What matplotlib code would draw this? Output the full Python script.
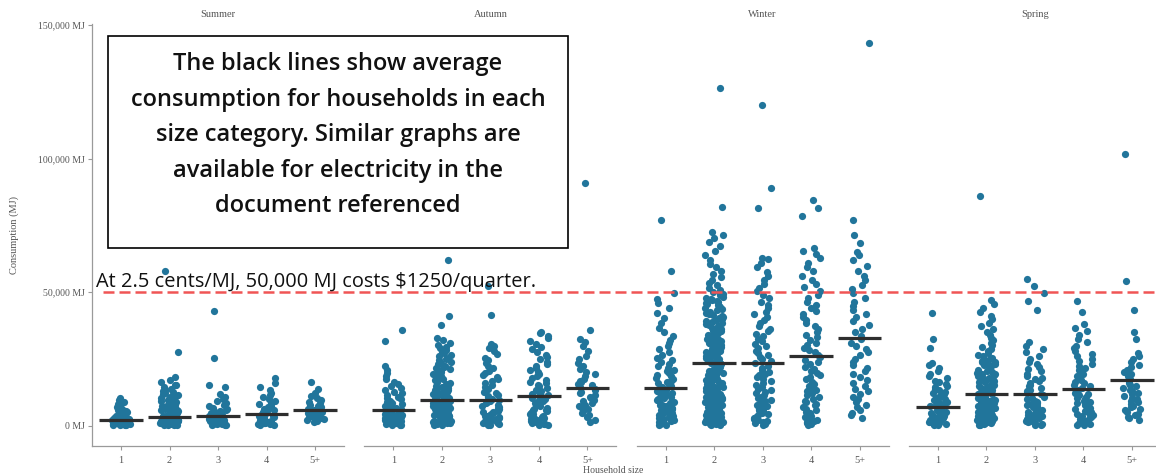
import numpy as np
import pandas as pd
import matplotlib
matplotlib.use("Agg")
import matplotlib.pyplot as plt
import matplotlib.transforms as mtransforms
from matplotlib.lines import Line2D
from matplotlib.patches import Rectangle
import seaborn as sns

seasons = ["Summer", "Autumn", "Winter", "Spring"]
sizes = ["1", "2", "3", "4", "5+"]

# household consumption, thousands of MJ
summer_1 = [0.2, 0.3, 0.4, 0.5, 0.6, 0.7, 0.8, 0.9, 1.0, 1.1, 1.2, 1.3, 1.4, 1.5, 1.6, 1.7, 1.8, 1.9,
            2.0, 2.1, 2.2, 2.3, 2.4, 2.5, 2.6, 2.8, 3.0, 3.2, 3.4, 3.6, 3.8, 4.0, 4.3, 4.6, 4.9, 5.2,
            5.6, 6.0, 6.5, 7.0, 7.6, 8.2, 8.9, 9.6, 10.3]
summer_2 = [0.2, 0.3, 0.4, 0.5, 0.6, 0.7, 0.8, 0.9, 1.0, 1.1, 1.2, 1.3, 1.4, 1.5, 1.6, 1.7, 1.8, 1.9,
            2.0, 2.1, 2.2, 2.3, 2.4, 2.5, 2.6, 2.7, 2.8, 2.9, 3.0, 3.1, 3.2, 3.3, 3.4, 3.5, 3.6, 3.7,
            3.8, 3.9, 4.0, 4.2, 4.4, 4.6, 4.8, 5.0, 5.2, 5.4, 5.6, 5.8, 6.0, 6.2, 6.4, 6.6, 6.8, 7.0,
            7.2, 7.4, 7.6, 7.8, 8.0, 8.3, 8.6, 8.9, 9.2, 9.5, 9.8, 10.1, 10.4, 10.7, 11.0, 11.3, 11.6,
            11.9, 12.2, 12.6, 13.0, 13.5, 14.0, 14.6, 15.2, 15.5, 16.3, 17.2, 18.3, 27.5, 58.0]
summer_3 = [0.2, 0.3, 0.5, 0.6, 0.7, 0.9, 1.0, 1.1, 1.3, 1.4, 1.5, 1.7, 1.9, 2.1, 2.3, 2.5, 2.7, 2.9,
            3.1, 3.3, 3.6, 3.9, 4.2, 4.5, 4.8, 5.1, 5.5, 5.9, 6.3, 6.8, 7.3, 7.9, 8.5, 9.2, 10.0, 10.8,
            12.0, 14.6, 15.2, 25.6, 43.0]
summer_4 = [0.3, 0.4, 0.6, 0.7, 0.8, 1.0, 1.1, 1.2, 1.4, 1.6, 1.8, 2.0, 2.2, 2.4, 2.6, 2.8, 3.0, 3.3,
            3.6, 3.9, 4.2, 4.5, 4.8, 5.1, 5.5, 5.9, 6.3, 6.7, 7.1, 7.6, 8.1, 8.7, 9.3, 10.0, 10.8,
            11.6, 12.5, 13.5, 14.6, 16.0, 18.0]
summer_5 = [1.6, 2.0, 2.2, 2.5, 2.8, 3.0, 3.3, 3.5, 3.7, 4.1, 4.5, 4.9, 5.3, 5.6, 6.0, 6.3, 6.7, 7.1,
            7.5, 8.0, 8.5, 9.0, 9.6, 10.3, 11.2, 12.4, 13.8, 16.5]

autumn_1 = [0.2, 0.4, 0.5, 0.7, 0.8, 1.0, 1.2, 1.4, 1.6, 1.8, 2.0, 2.2, 2.4, 2.6, 2.8, 3.0, 3.2, 3.4,
            3.6, 3.8, 4.0, 4.2, 4.5, 4.8, 5.1, 5.4, 5.7, 6.0, 6.3, 6.6, 7.0, 7.4, 7.8, 8.2, 8.6, 9.0,
            9.5, 10.0, 10.5, 11.0, 11.6, 12.2, 12.8, 13.4, 14.1, 14.8, 15.6, 16.4, 17.4, 18.6, 19.8,
            21.0, 22.3, 31.6, 36.0]
autumn_2 = [0.2, 0.4, 0.6, 0.8, 1.0, 1.2, 1.4, 1.6, 1.8, 2.0, 2.2, 2.4, 2.6, 2.8, 3.0, 3.2, 3.4, 3.6,
            3.8, 4.0, 4.2, 4.4, 4.6, 4.8, 5.0, 5.2, 5.4, 5.6, 5.8, 6.0, 6.2, 6.4, 6.6, 6.8, 7.0, 7.2,
            7.4, 7.6, 7.8, 8.0, 8.2, 8.4, 8.6, 8.8, 9.0, 9.2, 9.4, 9.6, 9.8, 10.0, 10.3, 10.6, 10.9,
            11.2, 11.5, 11.8, 12.1, 12.4, 12.7, 13.0, 13.3, 13.6, 13.9, 14.2, 14.5, 14.8, 15.1, 15.4,
            15.7, 16.0, 16.4, 16.8, 17.2, 17.6, 18.0, 18.4, 18.8, 19.2, 19.6, 20.0, 20.4, 20.8, 21.2,
            21.6, 22.0, 22.5, 23.0, 23.5, 24.0, 24.5, 25.0, 25.5, 26.0, 26.6, 27.2, 27.8, 28.4, 29.0,
            29.6, 30.2, 31.0, 32.2, 33.0, 37.8, 41.0, 62.0]
autumn_3 = [0.2, 0.4, 0.6, 0.8, 1.0, 1.2, 1.5, 1.8, 2.1, 2.4, 2.7, 3.0, 3.3, 3.6, 3.9, 4.2, 4.5, 4.8,
            5.1, 5.4, 5.7, 6.0, 6.4, 6.8, 7.2, 7.6, 8.0, 8.4, 8.8, 9.2, 9.7, 10.2, 10.7, 11.2, 11.7,
            12.2, 12.8, 13.4, 14.0, 14.6, 15.3, 16.0, 16.7, 17.4, 18.2, 19.0, 19.8, 20.7, 21.6, 22.5,
            23.5, 24.5, 25.6, 26.8, 28.0, 29.3, 30.0, 30.8, 41.6, 52.4]
autumn_4 = [0.2, 0.4, 0.6, 0.8, 1.0, 1.3, 1.6, 1.9, 2.2, 2.5, 2.8, 3.1, 3.4, 3.7, 4.0, 4.3, 4.6, 4.9,
            5.2, 5.5, 5.8, 6.1, 6.5, 6.9, 7.3, 7.7, 8.1, 8.5, 8.9, 9.3, 9.7, 10.1, 10.6, 11.1, 11.6,
            12.1, 12.6, 13.1, 13.6, 14.2, 14.8, 15.4, 16.0, 16.6, 17.2, 17.9, 18.6, 19.3, 20.0, 20.8,
            21.6, 22.4, 23.2, 24.0, 24.9, 25.8, 26.7, 27.6, 28.6, 29.6, 30.6, 31.7, 32.8, 33.8, 34.6,
            35.3]
autumn_5 = [1.6, 2.4, 3.2, 4.0, 4.8, 5.6, 6.2, 6.8, 7.4, 8.0, 8.6, 9.2, 9.8, 10.4, 11.0, 11.6, 12.2,
            12.8, 13.4, 14.0, 14.6, 15.2, 15.8, 16.4, 17.0, 17.6, 18.5, 19.4, 20.3, 21.3, 22.4, 23.6,
            24.9, 26.3, 28.0, 30.0, 31.5, 32.5, 36.0, 91.0]

winter_1 = [0.2, 0.5, 0.8, 1.1, 1.4, 1.7, 2.0, 2.3, 2.6, 2.9, 3.2, 3.5, 3.8, 4.1, 4.4, 4.7, 5.0, 5.3,
            5.6, 5.9, 6.2, 6.5, 6.8, 7.1, 7.4, 7.7, 8.0, 8.4, 8.8, 9.2, 9.6, 10.0, 10.4, 10.8, 11.2,
            11.6, 12.0, 12.4, 12.8, 13.2, 13.6, 14.0, 14.5, 15.0, 15.5, 16.0, 16.5, 17.0, 17.5, 18.0,
            18.6, 19.2, 19.8, 20.4, 21.0, 21.6, 22.3, 23.0, 23.8, 24.6, 25.5, 26.5, 27.5, 28.6, 29.8,
            31.0, 32.3, 33.7, 35.2, 36.8, 38.5, 40.3, 42.2, 44.2, 46.0, 47.5, 49.8, 58.0, 77.0]
winter_2 = [0.2, 0.4, 0.6, 0.8, 1.0, 1.2, 1.4, 1.6, 1.8, 2.0, 2.2, 2.4, 2.6, 2.8, 3.0, 3.2, 3.4, 3.6,
            3.8, 4.0, 4.2, 4.4, 4.6, 4.8, 5.0, 5.2, 5.4, 5.6, 5.8, 6.0, 6.2, 6.4, 6.6, 6.8, 7.0, 7.2,
            7.4, 7.6, 7.8, 8.0, 8.2, 8.4, 8.6, 8.8, 9.0, 9.2, 9.4, 9.6, 9.8, 10.0, 10.2, 10.4, 10.6,
            10.8, 11.0, 11.2, 11.4, 11.6, 11.8, 12.0, 12.3, 12.6, 12.9, 13.2, 13.5, 13.8, 14.1, 14.4,
            14.7, 15.0, 15.3, 15.6, 15.9, 16.2, 16.5, 16.8, 17.1, 17.4, 17.7, 18.0, 18.3, 18.6, 18.9,
            19.2, 19.5, 19.8, 20.1, 20.4, 20.7, 21.0, 21.3, 21.6, 21.9, 22.2, 22.5, 22.8, 23.1, 23.4,
            23.7, 24.0, 24.3, 24.6, 24.9, 25.2, 25.5, 25.8, 26.1, 26.4, 26.7, 27.0, 27.3, 27.6, 27.9,
            28.2, 28.5, 28.8, 29.1, 29.4, 29.7, 30.0, 30.3, 30.6, 30.9, 31.2, 31.5, 31.8, 32.1, 32.4,
            32.7, 33.0, 33.3, 33.6, 33.9, 34.2, 34.5, 34.8, 35.1, 35.4, 35.7, 36.0, 36.4, 36.8, 37.2,
            37.6, 38.0, 38.4, 38.8, 39.2, 39.6, 40.0, 40.4, 40.8, 41.2, 41.6, 42.0, 42.4, 42.8, 43.2,
            43.6, 44.0, 44.4, 44.8, 45.2, 45.6, 46.0, 46.4, 46.8, 47.2, 47.6, 48.0, 48.4, 48.8, 49.2,
            49.6, 50.0, 50.8, 51.7, 52.6, 53.6, 54.6, 55.7, 56.8, 58.0, 59.3, 60.7, 62.2, 63.8, 65.5,
            67.2, 68.9, 70.3, 71.5, 72.4, 82.0, 126.4]
winter_3 = [0.3, 0.7, 1.1, 1.5, 1.9, 2.3, 2.7, 3.1, 3.5, 4.0, 4.5, 5.0, 5.5, 6.0, 6.5, 7.0, 7.5, 8.0,
            8.6, 9.2, 9.8, 10.4, 11.0, 11.6, 12.2, 12.8, 13.4, 14.0, 14.7, 15.4, 16.1, 16.8, 17.5, 18.2,
            18.9, 19.6, 20.3, 21.0, 21.8, 22.6, 23.4, 24.2, 25.0, 25.8, 26.6, 27.4, 28.2, 29.0, 29.9,
            30.8, 31.7, 32.6, 33.5, 34.4, 35.4, 36.4, 37.4, 38.4, 39.5, 40.6, 41.7, 42.8, 44.0, 45.2,
            46.4, 47.7, 49.0, 50.3, 51.7, 53.1, 54.6, 56.1, 57.7, 59.4, 61.0, 62.5, 63.0, 81.6, 89.0,
            120.0]
winter_4 = [0.3, 0.7, 1.1, 1.5, 1.9, 2.4, 2.9, 3.4, 3.9, 4.4, 4.9, 5.4, 5.9, 6.5, 7.1, 7.7, 8.3, 8.9,
            9.5, 10.1, 10.8, 11.5, 12.2, 12.9, 13.6, 14.3, 15.0, 15.8, 16.6, 17.4, 18.2, 19.0, 19.8,
            20.6, 21.4, 22.2, 23.0, 23.9, 24.8, 25.7, 26.6, 27.5, 28.4, 29.3, 30.2, 31.2, 32.2, 33.2,
            34.2, 35.2, 36.2, 37.3, 38.4, 39.5, 40.6, 41.7, 42.9, 44.1, 45.3, 46.5, 47.8, 49.1, 50.4,
            51.8, 53.2, 54.7, 56.2, 57.8, 59.4, 61.0, 62.7, 64.3, 65.5, 66.7, 78.4, 81.6, 84.6]
winter_5 = [3.0, 4.0, 5.0, 6.0, 7.0, 8.0, 9.0, 10.0, 11.0, 12.0, 13.0, 14.0, 15.1, 16.2, 17.3, 18.4,
            19.5, 20.6, 21.7, 22.8, 24.0, 25.2, 26.4, 27.6, 28.8, 30.0, 31.2, 32.5, 33.8, 35.1, 36.4,
            37.8, 39.2, 40.6, 42.0, 43.5, 45.0, 46.5, 48.0, 49.6, 51.2, 52.8, 54.5, 56.2, 58.0, 60.0,
            62.0, 64.0, 65.0, 68.5, 71.5, 77.0, 143.3]

spring_1 = [0.2, 0.4, 0.6, 0.8, 1.0, 1.2, 1.4, 1.6, 1.8, 2.0, 2.2, 2.4, 2.7, 3.0, 3.3, 3.6, 3.9, 4.2,
            4.5, 4.8, 5.1, 5.4, 5.7, 6.0, 6.3, 6.6, 6.9, 7.2, 7.5, 7.8, 8.1, 8.5, 8.9, 9.3, 9.7, 10.1,
            10.5, 10.9, 11.3, 11.8, 12.3, 12.8, 13.3, 13.8, 14.4, 15.0, 15.6, 16.3, 17.0, 17.8, 18.6,
            19.5, 20.5, 21.6, 22.8, 23.6, 29.2, 32.5, 42.2]
spring_2 = [0.2, 0.4, 0.6, 0.8, 1.0, 1.2, 1.4, 1.6, 1.8, 2.0, 2.2, 2.4, 2.6, 2.8, 3.0, 3.2, 3.4, 3.6,
            3.8, 4.0, 4.2, 4.4, 4.6, 4.8, 5.0, 5.2, 5.4, 5.6, 5.8, 6.0, 6.2, 6.4, 6.6, 6.8, 7.0, 7.2,
            7.4, 7.6, 7.8, 8.0, 8.2, 8.4, 8.6, 8.8, 9.0, 9.2, 9.4, 9.6, 9.8, 10.0, 10.3, 10.6, 10.9,
            11.2, 11.5, 11.8, 12.1, 12.4, 12.7, 13.0, 13.3, 13.6, 13.9, 14.2, 14.5, 14.8, 15.1, 15.4,
            15.7, 16.0, 16.3, 16.6, 16.9, 17.2, 17.5, 17.8, 18.1, 18.4, 18.7, 19.0, 19.3, 19.6, 19.9,
            20.2, 20.5, 20.8, 21.1, 21.4, 21.7, 22.0, 22.3, 22.6, 22.9, 23.2, 23.5, 23.8, 24.1, 24.4,
            24.7, 25.0, 25.5, 26.0, 26.6, 27.2, 27.9, 28.6, 29.4, 30.2, 31.1, 32.0, 33.0, 34.0, 35.1,
            36.2, 37.4, 38.6, 39.9, 41.2, 42.6, 44.0, 45.5, 47.2, 86.1]
spring_3 = [0.2, 0.5, 0.8, 1.1, 1.4, 1.7, 2.0, 2.3, 2.6, 2.9, 3.2, 3.5, 3.8, 4.1, 4.4, 4.7, 5.0, 5.4,
            5.8, 6.2, 6.6, 7.0, 7.4, 7.8, 8.2, 8.6, 9.0, 9.5, 10.0, 10.5, 11.0, 11.5, 12.0, 12.5, 13.0,
            13.6, 14.2, 14.8, 15.4, 16.0, 16.7, 17.4, 18.1, 18.8, 19.6, 20.4, 21.2, 22.1, 23.0, 24.0,
            25.0, 26.2, 27.5, 28.8, 30.0, 31.5, 43.4, 46.6, 49.7, 52.2, 55.0]
spring_4 = [0.2, 0.5, 0.8, 1.1, 1.4, 1.7, 2.0, 2.3, 2.6, 2.9, 3.2, 3.5, 3.8, 4.1, 4.5, 4.9, 5.3, 5.7,
            6.1, 6.5, 6.9, 7.3, 7.7, 8.1, 8.5, 9.0, 9.5, 10.0, 10.5, 11.0, 11.5, 12.0, 12.5, 13.0, 13.6,
            14.2, 14.8, 15.4, 16.0, 16.6, 17.3, 18.0, 18.7, 19.4, 20.1, 20.9, 21.7, 22.5, 23.3, 24.2,
            25.1, 26.0, 27.0, 28.0, 29.0, 30.0, 31.3, 32.6, 34.0, 35.4, 36.8, 38.2, 42.8, 46.6]
spring_5 = [2.2, 2.8, 3.4, 4.0, 4.6, 5.2, 5.8, 6.4, 7.0, 7.6, 8.2, 8.8, 9.4, 10.0, 10.6, 11.2, 11.8,
            12.4, 13.0, 13.6, 14.2, 14.8, 15.4, 16.0, 16.7, 17.4, 18.1, 18.8, 19.5, 20.3, 21.1, 22.0,
            22.9, 23.8, 24.9, 26.1, 27.3, 32.5, 35.0, 43.4, 54.3, 101.7]

# black lines: average consumption per size category, thousands of MJ
summer_avg = [2.2, 3.4, 3.7, 4.5, 6.0]
autumn_avg = [6.0, 9.7, 9.7, 11.2, 14.2]
winter_avg = [14.2, 23.6, 23.6, 26.2, 33.0]
spring_avg = [7.1, 12.0, 12.0, 13.9, 17.2]

reference_mj = 50000

box_lines = ["The black lines show average",
             "consumption for households in each",
             "size category. Similar graphs are",
             "available for electricity in the",
             "document referenced"]
note = "At 2.5 cents/MJ, 50,000 MJ costs $1250/quarter."

groups = {
    "Summer": [summer_1, summer_2, summer_3, summer_4, summer_5],
    "Autumn": [autumn_1, autumn_2, autumn_3, autumn_4, autumn_5],
    "Winter": [winter_1, winter_2, winter_3, winter_4, winter_5],
    "Spring": [spring_1, spring_2, spring_3, spring_4, spring_5],
}
averages = {"Summer": summer_avg, "Autumn": autumn_avg,
            "Winter": winter_avg, "Spring": spring_avg}

rows = []
for season in seasons:
    for size, vals in zip(sizes, groups[season]):
        for v in vals:
            rows.append((season, size, v * 1000))
df = pd.DataFrame(rows, columns=["season", "size", "mj"])

point_color = "#21759b"
axis_grey = "#9a9a9a"
label_grey = "#555555"
serif = ["Liberation Serif", "DejaVu Serif"]
sans = ["Open Sans", "DejaVu Sans"]

np.random.seed(7)
W, H = 1156, 476
fig, axes = plt.subplots(1, 4, figsize=(W / 100, H / 100), dpi=100, sharey=True)
fig.subplots_adjust(left=92 / W, right=1161 / W, bottom=30 / H, top=1 - 23.6 / H, wspace=20 / 252)

for ax, season in zip(axes, seasons):
    sub = df[df["season"] == season]
    sns.stripplot(data=sub, x="size", y="mj", order=sizes, ax=ax, color=point_color,
                  size=5.2, jitter=0.19, linewidth=0, zorder=2)
    for i, m in enumerate(averages[season]):
        ax.plot([i - 0.45, i + 0.45], [m * 1000, m * 1000], color="#2e2e2e", lw=2.3,
                solid_capstyle="butt", zorder=3)
    ax.set_xlim(-0.6, 4.6)
    ax.set_ylim(-7500, 150500)
    ax.set_xlabel("")
    ax.set_ylabel("")
    ax.set_title(season, fontsize=7.5, color=label_grey, family=serif, pad=5)
    for side in ["top", "right", "left"]:
        ax.spines[side].set_visible(False)
    ax.spines["bottom"].set_color(axis_grey)
    ax.spines["bottom"].set_linewidth(0.9)
    ax.tick_params(axis="x", length=3, color=axis_grey, labelsize=7.5, labelcolor=label_grey, pad=4)
    for lbl in ax.get_xticklabels():
        lbl.set_family(serif)
    ax.tick_params(axis="y", left=False, labelleft=False)

ax0 = axes[0]
ax0.spines["left"].set_visible(True)
ax0.spines["left"].set_color(axis_grey)
ax0.spines["left"].set_linewidth(0.9)
ax0.set_yticks([0, 50000, 100000, 150000])
ax0.set_yticklabels(["0 MJ", "50,000 MJ", "100,000 MJ", "150,000 MJ"])
ax0.tick_params(axis="y", left=True, labelleft=True, length=3, color=axis_grey,
                labelsize=7, labelcolor=label_grey, pad=2)
for lbl in ax0.get_yticklabels():
    lbl.set_family(serif)
ax0.set_ylabel("Consumption (MJ)", fontsize=7.5, color=label_grey, family=serif)
ax0.yaxis.set_label_coords(-0.29, 0.5)

fig.text(583 / W, 1 / H, "Household size", fontsize=7, color=label_grey, family=serif,
         ha="left", va="bottom")

# red dashed reference line across all panels
trans = mtransforms.blended_transform_factory(fig.transFigure, ax0.transData)
fig.add_artist(Line2D([103 / W, 1.0], [reference_mj, reference_mj], transform=trans,
                      color="#f05555", lw=1.8, dashes=(4.4, 2.0), zorder=4))

fig.text(96 / W, 1 - 282 / H, note, fontsize=14.4, family=sans,
         color="#111111", ha="left", va="center", zorder=6)

# text box
fig.add_artist(Rectangle((108 / W, 1 - 248 / H), 460 / W, 212 / H, transform=fig.transFigure,
                         facecolor="white", edgecolor="black", lw=1.2, zorder=5))
for k, line in enumerate(box_lines):
    fig.text(338 / W, 1 - (64 + 35.6 * k) / H, line, fontsize=17, fontweight="semibold",
             family=sans, color="#111111", ha="center", va="center", zorder=6)

fig.savefig("out.png", dpi=100)
